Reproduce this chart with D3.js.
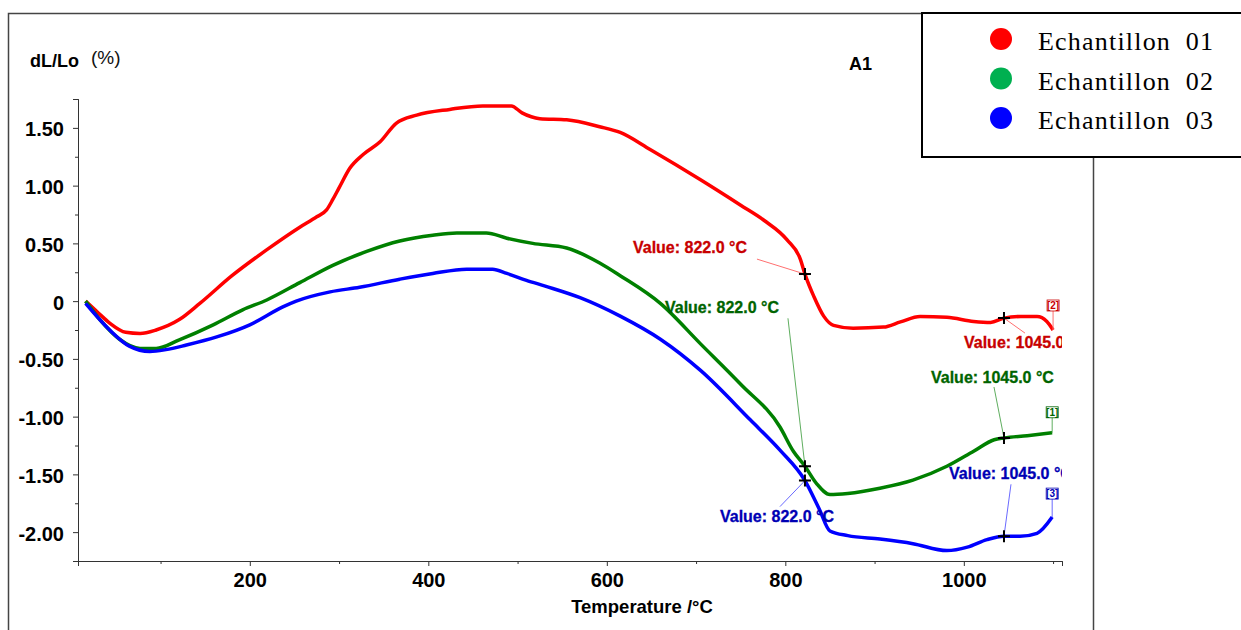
<!DOCTYPE html>
<html lang="en">
<head>
<meta charset="UTF-8">
<title>dL/Lo vs Temperature</title>
<script src="https://d3js.org/d3.v7.min.js"></script>
<style>
  body { margin: 0; background: #fff; }
  svg { display: block; font-family: "Liberation Sans", Arial, sans-serif; }
</style>
</head>
<body>
<div id="chart"></div>
<script>
// [temperature °C, dL/Lo %]
const echantillon01 = [
  [16, 0.0], [30, -0.1], [43, -0.19], [61, -0.27], [77, -0.28], [95, -0.25], [121, -0.16],
  [144, -0.02], [180, 0.22], [220, 0.45], [256, 0.64], [275, 0.73], [286, 0.79], [293, 0.88],
  [300, 0.98], [312, 1.15], [327, 1.27], [346, 1.38], [364, 1.54], [387, 1.61], [424, 1.66],
  [461, 1.69], [493, 1.69], [505, 1.63], [525, 1.58], [555, 1.57], [592, 1.51], [615, 1.46],
  [649, 1.31], [705, 1.05], [750, 0.83], [776, 0.70], [802, 0.53], [817, 0.36], [822, 0.234],
  [832, 0.04], [843, -0.13], [854, -0.21], [876, -0.235], [910, -0.225], [929, -0.18],
  [951, -0.133], [981, -0.14], [1011, -0.176], [1030, -0.185], [1045, -0.147], [1064, -0.133],
  [1082, -0.133], [1093, -0.176], [1100, -0.25]
];
const echantillon02 = [
  [16, 0.0], [32, -0.16], [54, -0.33], [77, -0.41], [95, -0.41], [121, -0.335], [159, -0.205],
  [192, -0.075], [219, 0.01], [256, 0.16], [293, 0.31], [331, 0.43], [368, 0.52], [405, 0.57],
  [432, 0.59], [465, 0.59], [488, 0.545], [517, 0.5], [555, 0.46], [592, 0.33], [615, 0.22],
  [660, -0.02], [705, -0.37], [750, -0.72], [794, -1.09], [809, -1.3], [822, -1.43],
  [835, -1.58], [850, -1.675], [870, -1.665], [906, -1.62], [943, -1.55], [981, -1.43],
  [1011, -1.3], [1034, -1.2], [1045, -1.185], [1071, -1.165], [1099, -1.14]
];
const echantillon03 = [
  [16, -0.02], [43, -0.25], [65, -0.39], [88, -0.436], [106, -0.42], [129, -0.38], [163, -0.31],
  [200, -0.205], [237, -0.05], [252, 0.0], [290, 0.08], [323, 0.12], [368, 0.19], [405, 0.24],
  [443, 0.277], [472, 0.277], [488, 0.24], [510, 0.18], [531, 0.13], [570, 0.03], [615, -0.13],
  [660, -0.33], [705, -0.6], [761, -1.03], [794, -1.29], [822, -1.554], [838, -1.8],
  [850, -1.99], [870, -2.03], [906, -2.06], [943, -2.1], [981, -2.16], [1004, -2.13],
  [1026, -2.065], [1045, -2.036], [1063, -2.036], [1082, -2.01], [1099, -1.87]
];

const seriesNames = ["Echantillon 01", "Echantillon 02", "Echantillon 03"];
const endTags = ["[2]", "[1]", "[3]"];
const markTemps = [822, 1045];
const xTicks = [200, 400, 600, 800, 1000];
const xMinor = [100, 300, 500, 700, 900, 1100];
const yTicks = [-2, -1.5, -1, -0.5, 0, 0.5, 1, 1.5];
const yMinor = [-2.25, -1.75, -1.25, -0.75, -0.25, 0.25, 0.75, 1.25, 1.75];

const curveColors = ["#ff0000", "#008000", "#0000ff"];
const legendColors = ["#ff0000", "#00b050", "#0000ff"];
const labelColors = ["#c80000", "#006400", "#0000b4"];
const leaderColors = ["#ff7070", "#5fae5f", "#6a6aff"];

// pixel offsets of each "Value" label relative to its marker (text start, leader start)
const annotLayout = [
  [{tx: -172, ty: -21, lx: -48, ly: -15}, {tx: -40, ty: 30, lx: 21, ly: 15}],
  [{tx: -140, ty: -153, lx: -17, ly: -148}, {tx: -73, ty: -55, lx: -10, ly: -51}],
  [{tx: -85, ty: 41, lx: -25, ly: 26}, {tx: -55, ty: -57, lx: 7, ly: -52}]
];
const tagOffsets = [-25, -21, -24];

const W = 1241, H = 630;
const plot = {left: 78, right: 1062, top: 99, bottom: 561};
const allSeries = [echantillon01, echantillon02, echantillon03];

const svg = d3.select("#chart").append("svg")
  .attr("width", W).attr("height", H);

const x = d3.scaleLinear().domain([7.5, 1110]).range([plot.left, plot.right]);
const y = d3.scaleLinear().domain([-2.25, 1.75]).range([plot.bottom, plot.top]);

// outer frame
svg.append("path")
  .attr("d", `M8.5,${H} V13.5 H1093.5 V${H}`)
  .attr("fill", "none").attr("stroke", "#444").attr("stroke-width", 1.5);

svg.append("clipPath").attr("id", "plotclip")
  .append("rect")
  .attr("x", plot.left).attr("y", plot.top - 5)
  .attr("width", plot.right - plot.left).attr("height", plot.bottom - plot.top + 5);

// axes
const yAxis = d3.axisLeft(y).tickValues(yTicks).tickSize(5).tickPadding(9)
  .tickFormat(d => d === 0 ? "0" : d.toFixed(2));
const gy = svg.append("g").attr("transform", `translate(${plot.left},0)`).call(yAxis);
gy.append("g").call(d3.axisLeft(y).tickValues(yMinor).tickSize(3).tickFormat(""));

const xAxis = d3.axisBottom(x).tickValues(xTicks).tickSize(5).tickPadding(7)
  .tickFormat(d3.format("d"));
const gx = svg.append("g").attr("transform", `translate(0,${plot.bottom})`).call(xAxis);
gx.append("g").call(d3.axisBottom(x).tickValues(xMinor).tickSize(3).tickFormat(""));

svg.selectAll(".domain").attr("stroke", "#333");
svg.selectAll(".tick line").attr("stroke", "#333");
svg.selectAll(".tick text")
  .attr("fill", "#000").attr("font-size", 20).attr("font-weight", "bold")
  .attr("font-family", "'Liberation Sans', Arial, sans-serif");
gy.selectAll(".tick text").attr("dy", "0.4em");

// axis titles
svg.append("text").attr("x", 30).attr("y", 67)
  .attr("font-size", 18).attr("font-weight", "bold").text("dL/Lo");
svg.append("text").attr("x", 91).attr("y", 64)
  .attr("font-size", 19).attr("fill", "#111").text("(%)");
svg.append("text").attr("x", 642).attr("y", 613).attr("text-anchor", "middle")
  .attr("font-size", 18.5).attr("font-weight", "bold").text("Temperature /°C");
svg.append("text").attr("x", 849).attr("y", 70)
  .attr("font-size", 18).attr("font-weight", "bold").text("A1");

// curves
const line = d3.line().x(d => x(d[0])).y(d => y(d[1])).curve(d3.curveMonotoneX);
const gCurves = svg.append("g").attr("clip-path", "url(#plotclip)");
gCurves.selectAll("path.curve")
  .data(allSeries)
  .join("path")
  .attr("class", "curve")
  .attr("d", line)
  .attr("fill", "none")
  .attr("stroke", (d, i) => curveColors[i])
  .attr("stroke-width", 3.5)
  .attr("stroke-linejoin", "round");

// value lookup at a temperature
function valueAt(data, t) {
  const i = d3.bisector(d => d[0]).left(data, t);
  if (i <= 0) return data[0][1];
  if (i >= data.length) return data[data.length - 1][1];
  const a = data[i - 1], b = data[i];
  return a[1] + (b[1] - a[1]) * (t - a[0]) / (b[0] - a[0]);
}

// annotations
const gAnn = svg.append("g").attr("clip-path", "url(#plotclip)");
allSeries.forEach((data, si) => {
  markTemps.forEach((t, mi) => {
    const mx = x(t), my = y(valueAt(data, t));
    const lay = annotLayout[si][mi];
    gAnn.append("line")
      .attr("x1", mx + lay.lx).attr("y1", my + lay.ly)
      .attr("x2", mx).attr("y2", my)
      .attr("stroke", leaderColors[si]).attr("stroke-width", 1);
    gAnn.append("text")
      .attr("x", mx + lay.tx).attr("y", my + lay.ty)
      .attr("font-size", 16).attr("font-weight", "bold")
      .attr("fill", labelColors[si])
      .attr("stroke", labelColors[si]).attr("stroke-width", 0.3)
      .text(`Value: ${t.toFixed(1)} °C`);
    gAnn.append("path")
      .attr("d", `M${mx - 6},${my} H${mx + 6} M${mx},${my - 6} V${my + 6}`)
      .attr("stroke", "#000").attr("stroke-width", 2);
  });

  // end tag
  const last = data[data.length - 1];
  const ex = x(last[0]), ey = y(last[1]);
  const ty = ey + tagOffsets[si];
  gAnn.append("line")
    .attr("x1", ex).attr("y1", ty + 5).attr("x2", ex).attr("y2", ey)
    .attr("stroke", leaderColors[si]).attr("stroke-width", 1);
  gAnn.append("rect")
    .attr("x", ex - 6).attr("y", ty - 5).attr("width", 12).attr("height", 11)
    .attr("fill", "#fff").attr("stroke", labelColors[si]).attr("stroke-width", 0.8);
  gAnn.append("text")
    .attr("x", ex).attr("y", ty + 4).attr("text-anchor", "middle")
    .attr("font-size", 10).attr("font-weight", "bold")
    .attr("fill", labelColors[si]).text(endTags[si]);
});

// legend
const legend = svg.append("g");
legend.append("rect")
  .attr("x", 922).attr("y", 13).attr("width", 330).attr("height", 144)
  .attr("fill", "#fff").attr("stroke", "#000").attr("stroke-width", 2);
const items = legend.selectAll("g.item")
  .data(seriesNames)
  .join("g")
  .attr("class", "item")
  .attr("transform", (d, i) => `translate(0,${39 + i * 39.5})`);
items.append("circle")
  .attr("cx", 1001).attr("cy", 0).attr("r", 11)
  .attr("fill", (d, i) => legendColors[i]);
items.append("text")
  .attr("x", 1038).attr("y", 11)
  .attr("font-family", "'Liberation Serif', 'Times New Roman', serif")
  .attr("font-size", 26).attr("letter-spacing", 1.2).attr("word-spacing", 7)
  .attr("fill", "#000")
  .text(d => d);
</script>
</body>
</html>
